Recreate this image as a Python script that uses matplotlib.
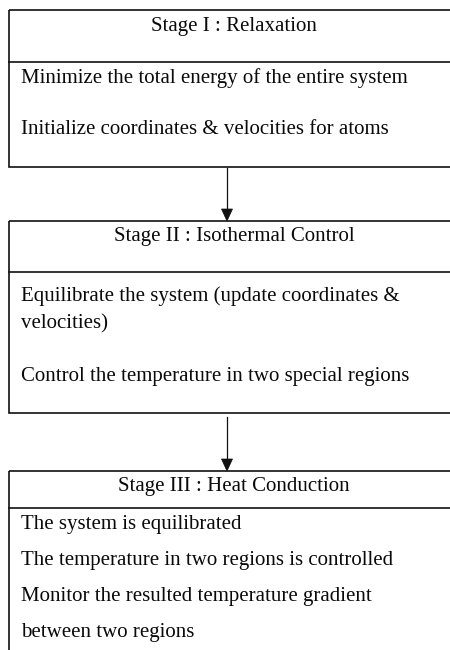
import matplotlib
matplotlib.use("Agg")
import matplotlib.pyplot as plt
from matplotlib.patches import Rectangle, Polygon

stage_titles = ["Stage I : Relaxation", "Stage II : Isothermal Control", "Stage III : Heat Conduction"]
stage1_lines = ["Minimize the total energy of the entire system",
                "Initialize coordinates & velocities for atoms"]
stage2_lines = ["Equilibrate the system (update coordinates &",
                "velocities)",
                "Control the temperature in two special regions"]
stage3_lines = ["The system is equilibrated",
                "The temperature in two regions is controlled",
                "Monitor the resulted temperature gradient",
                "between two regions"]

# layout (pixels)
boxes = [
    dict(top=10, div=62, bottom=167, title_y=27, line_y=[78, 129]),
    dict(top=221, div=272, bottom=413, title_y=237, line_y=[296, 324, 376]),
    dict(top=471, div=508, bottom=700, title_y=487, line_y=[524, 560, 597, 633]),
]
all_lines = [stage1_lines, stage2_lines, stage3_lines]

fig = plt.figure(figsize=(4.5, 6.5), dpi=100)
ax = fig.add_axes([0, 0, 1, 1])
ax.set_xlim(0, 450)
ax.set_ylim(650, 0)
ax.axis("off")

font = dict(family="Liberation Serif", fontsize=15, color="#0a0a0a")
lw = 1.2
left, right = 9, 470
for b, title, lines in zip(boxes, stage_titles, all_lines):
    ax.add_patch(Rectangle((left, b["top"]), right - left, b["bottom"] - b["top"],
                           fill=False, ec="#111111", lw=lw))
    ax.plot([left, right], [b["div"], b["div"]], color="#111111", lw=lw)
    ax.text(234, b["title_y"], title, ha="center", va="center", **font)
    for t, y in zip(lines, b["line_y"]):
        ax.text(21, y, t, ha="left", va="center", **font)

# arrows
arrows = [(168, 221), (417, 471)]
for y0, y1 in arrows:
    ax.plot([227, 227], [y0, y1 - 10], color="#111111", lw=0.9)
    ax.add_patch(Polygon([[221.5, y1 - 12], [232.5, y1 - 12], [227, y1]], closed=True,
                         fc="#111111", ec="#111111", lw=0.5))

fig.savefig("out.png", dpi=100)
